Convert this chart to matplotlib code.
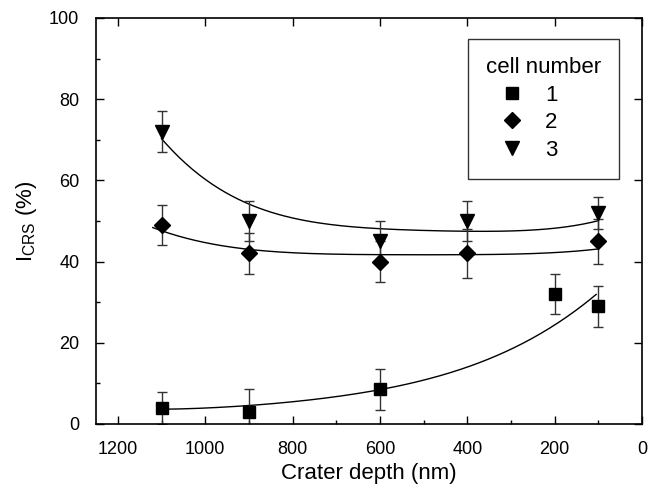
# Crater depth vs I_CRS for three cells, with fitted curves
import numpy as np
import matplotlib
matplotlib.use('Agg')
import matplotlib.pyplot as plt
from matplotlib.ticker import MultipleLocator

plt.rcParams['font.family'] = ['Liberation Sans', 'DejaVu Sans']
plt.rcParams['mathtext.fontset'] = 'custom'
plt.rcParams['mathtext.rm'] = 'Liberation Sans'
plt.rcParams['mathtext.it'] = 'Liberation Sans:italic'

# measured points (depth in nm, I_CRS in %, error)
depth1 = [1100, 900, 600, 200, 100]
cell1 = [4, 3, 8.5, 32, 29]
err1 = [4, 5.5, 5, 5, 5]

depth2 = [1100, 900, 600, 400, 100]
cell2 = [49, 42, 40, 42, 45]
err2 = [5, 5, 5, 6, 5.5]

depth3 = [1100, 900, 600, 400, 100]
cell3 = [72, 50, 45, 50, 52]
err3 = [5, 5, 5, 5, 4]

# points along the fitted curves
fit1_x = [1110, 1020, 900, 790, 675, 600, 505, 395, 280, 205, 150, 105]
fit1_y = [3.6, 3.9, 4.4, 5.9, 7.1, 8.0, 10.8, 14.5, 19.5, 24.0, 27.7, 32.2]

fit2_x = [1120, 1055, 940, 830, 760, 670, 555, 440, 395, 280, 165, 100]
fit2_y = [48.6, 45.7, 43.7, 42.4, 42.0, 41.9, 41.6, 41.6, 41.6, 42.0, 42.6, 43.0]

fit3_x = [1100, 1020, 940, 905, 830, 760, 670, 555, 440, 370, 280, 165, 100]
fit3_y = [70.8, 60.9, 56.0, 54.8, 51.9, 50.2, 48.6, 47.6, 47.2, 47.4, 47.9, 49.0, 49.8]


def smooth(xs, ys, deg):
    # least squares polynomial through the read points, drawn smooth
    p = np.polyfit(np.array(xs) / 1000.0, ys, deg)
    xx = np.linspace(min(xs), max(xs), 200)
    return xx, np.polyval(p, xx / 1000.0)


fig = plt.figure(figsize=(6.58, 4.90), dpi=100)
ax = fig.add_axes([0.1459, 0.1347, 0.8298, 0.8286])

for fx, fy, d in [(fit1_x, fit1_y, 4), (fit2_x, fit2_y, 4), (fit3_x, fit3_y, 4)]:
    xx, yy = smooth(fx, fy, d)
    ax.plot(xx, yy, color='black', lw=1.0)

ekw = dict(ecolor='#333333', elinewidth=1.0, capsize=3.6, capthick=1.0,
           linestyle='none', color='black')
ax.errorbar(depth1, cell1, yerr=err1, marker='s', markersize=8.5, label='1', **ekw)
ax.errorbar(depth2, cell2, yerr=err2, marker='D', markersize=8.5, label='2', **ekw)
ax.errorbar(depth3, cell3, yerr=err3, marker='v', markersize=10, label='3', **ekw)

ax.set_xlim(1250, 0)
ax.set_ylim(0, 100)
ax.xaxis.set_major_locator(MultipleLocator(200))
ax.xaxis.set_minor_locator(MultipleLocator(100))
ax.yaxis.set_major_locator(MultipleLocator(20))
ax.yaxis.set_minor_locator(MultipleLocator(10))
ax.tick_params(which='major', direction='in', length=6, width=1, labelsize=13,
               top=True, right=True)
ax.tick_params(axis='x', which='major', pad=12)
ax.tick_params(axis='y', which='major', pad=12)
ax.tick_params(which='minor', direction='in', length=3, width=1,
               top=False, right=False)
for s in ax.spines.values():
    s.set_linewidth(1.2)

ax.set_xlabel('Crater depth (nm)', fontsize=16, labelpad=4)
ax.set_ylabel(r'I$_{\mathrm{CRS}}$ (%)', fontsize=16, labelpad=7)

handles, labels = ax.get_legend_handles_labels()
handles = [h[0] for h in handles]
leg = ax.legend(handles, labels, title='cell number', loc='upper right',
                bbox_to_anchor=(0.958, 0.948), fontsize=16, title_fontsize=16,
                frameon=True, fancybox=False, edgecolor='black',
                handletextpad=0.35, handlelength=2.3, borderpad=0.8,
                labelspacing=0.3, borderaxespad=0, alignment='left')
leg.get_frame().set_linewidth(1.0)

fig.savefig('out.png', dpi=100)
